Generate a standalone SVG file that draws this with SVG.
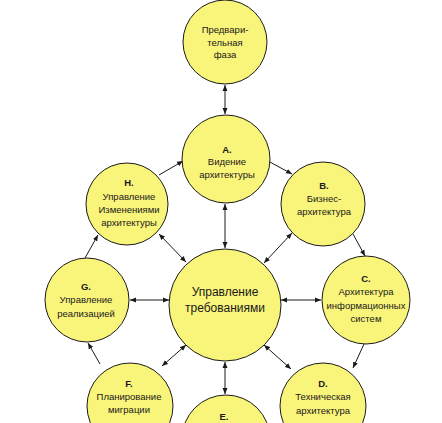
<svg xmlns="http://www.w3.org/2000/svg" width="442" height="423" viewBox="0 0 442 423">
<style>
.n{fill:#F9F47A;stroke:#1a1a1a;stroke-width:1}
text{font-family:"Liberation Sans",Arial,sans-serif;font-size:9.5px;fill:#1a1a1a;text-anchor:middle}
.b{font-weight:bold}
.c{font-size:12px}
.l{stroke:#1a1a1a;stroke-width:1;fill:none}
</style>
<defs>
<marker id="ah" viewBox="0 0 6 6" markerWidth="6" markerHeight="6" refX="6" refY="3" orient="auto-start-reverse" markerUnits="userSpaceOnUse">
<path d="M0,0.5 L6,3 L0,5.5 z" fill="#1a1a1a"/>
</marker>
</defs>
<rect width="442" height="423" fill="#ffffff"/>
<g id="connectors">
<line class="l" x1="225" y1="85" x2="225" y2="114" marker-start="url(#ah)" marker-end="url(#ah)"/>
<line class="l" x1="225" y1="204" x2="225" y2="248" marker-start="url(#ah)" marker-end="url(#ah)"/>
<line class="l" x1="159" y1="175" x2="183" y2="161" marker-end="url(#ah)"/>
<line class="l" x1="268" y1="161" x2="292" y2="174" marker-end="url(#ah)"/>
<line class="l" x1="353" y1="234" x2="365" y2="256" marker-end="url(#ah)"/>
<line class="l" x1="364" y1="344" x2="353" y2="368" marker-end="url(#ah)"/>
<line class="l" x1="100" y1="364" x2="88" y2="343" marker-end="url(#ah)"/>
<line class="l" x1="85" y1="258" x2="98" y2="235" marker-end="url(#ah)"/>
<line class="l" x1="159" y1="234" x2="186" y2="262" marker-start="url(#ah)" marker-end="url(#ah)"/>
<line class="l" x1="292" y1="233" x2="264" y2="263" marker-start="url(#ah)" marker-end="url(#ah)"/>
<line class="l" x1="130" y1="300" x2="169" y2="300" marker-start="url(#ah)" marker-end="url(#ah)"/>
<line class="l" x1="281" y1="300" x2="321" y2="300" marker-start="url(#ah)" marker-end="url(#ah)"/>
<line class="l" x1="186" y1="345" x2="162" y2="366" marker-start="url(#ah)" marker-end="url(#ah)"/>
<line class="l" x1="264" y1="345" x2="291" y2="369" marker-start="url(#ah)" marker-end="url(#ah)"/>
<line class="l" x1="225" y1="362" x2="225" y2="394" marker-start="url(#ah)" marker-end="url(#ah)"/>
</g>
<g id="prelim">
<circle class="n" cx="225" cy="42" r="42"/>
<text x="225" y="33">Предвари-</text>
<text x="225" y="46">тельная</text>
<text x="225" y="58">фаза</text>
</g>
<g id="nodeA">
<circle class="n" cx="226" cy="159" r="44"/>
<text class="b" x="227" y="153">A.</text>
<text x="227" y="165">Видение</text>
<text x="227" y="178">архитектуры</text>
</g>
<g id="nodeH">
<circle class="n" cx="127" cy="204" r="41"/>
<text class="b" x="129" y="186">H.</text>
<text x="129" y="200">Управление</text>
<text x="129" y="213">Изменениями</text>
<text x="129" y="226">архитектуры</text>
</g>
<g id="nodeB">
<circle class="n" cx="323" cy="204" r="42"/>
<text class="b" x="324" y="189">B.</text>
<text x="324" y="202">Бизнес-</text>
<text x="324" y="215">архитектура</text>
</g>
<g id="nodeG">
<circle class="n" cx="87" cy="300" r="42"/>
<text class="b" x="86" y="290">G.</text>
<text x="86" y="303">Управление</text>
<text x="86" y="317">реализацией</text>
</g>
<g id="center">
<circle class="n" cx="225" cy="305" r="56"/>
<text class="c" x="225" y="296">Управление</text>
<text class="c" x="225" y="312">требованиями</text>
</g>
<g id="nodeC">
<circle class="n" cx="366" cy="300" r="44"/>
<text class="b" x="366" y="282">C.</text>
<text x="366" y="295">Архитектура</text>
<text x="366" y="309">информационных</text>
<text x="366" y="322">систем</text>
</g>
<g id="nodeF">
<circle class="n" cx="130" cy="406" r="43"/>
<text class="b" x="129" y="387">F.</text>
<text x="129" y="400">Планирование</text>
<text x="129" y="413">миграции</text>
</g>
<g id="nodeD">
<circle class="n" cx="323" cy="406" r="43"/>
<text class="b" x="323" y="387">D.</text>
<text x="323" y="400">Техническая</text>
<text x="323" y="414">архитектура</text>
</g>
<g id="nodeE">
<circle class="n" cx="226" cy="439" r="44"/>
<text class="b" x="224" y="420">E.</text>
</g>
</svg>
